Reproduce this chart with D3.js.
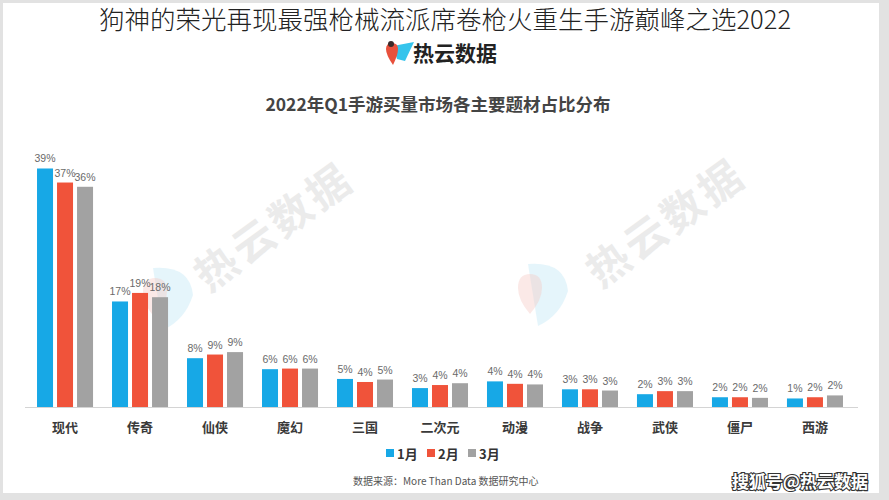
<!DOCTYPE html>
<html>
<head>
<meta charset="utf-8">
<script src="https://cdn.jsdelivr.net/npm/d3@7/dist/d3.min.js"></script>
<style>
  html, body { margin: 0; padding: 0; background: #fff; }
  svg { display: block; }
</style>
</head>
<body>
<svg id="chart" width="889" height="500"></svg>
<script>
// ---- data ----
const categories = ["现代", "传奇", "仙侠", "魔幻", "三国", "二次元", "动漫", "战争", "武侠", "僵尸", "西游"];
const seriesNames = ["1月", "2月", "3月"];
const jan = [39.1, 17.3, 8.0, 6.2, 4.6, 3.1, 4.2, 2.9, 2.1, 1.6, 1.4];
const feb = [36.8, 18.7, 8.6, 6.3, 4.1, 3.6, 3.8, 2.9, 2.6, 1.6, 1.6];
const mar = [36.1, 18.0, 9.0, 6.3, 4.5, 3.9, 3.7, 2.7, 2.6, 1.5, 1.9];
const seriesColors = ["#17a8e6", "#f0533a", "#a2a2a2"];
const pageTitle = "狗神的荣光再现最强枪械流派席卷枪火重生手游巅峰之选2022";
const brandName = "热云数据";
const chartTitle = "2022年Q1手游买量市场各主要题材占比分布";
const sourceText = "数据来源：More Than Data 数据研究中心";
const footerMark = "搜狐号@热云数据";

const series = [jan, feb, mar];
const FONT = "'Noto Sans CJK SC', 'Noto Sans', sans-serif";

const svg = d3.select("#chart");

// frame (photo border)
svg.append("rect").attr("x", 0).attr("y", 0).attr("width", 889).attr("height", 500).attr("fill", "#e2e2e2");
svg.append("rect").attr("x", 3).attr("y", 3).attr("width", 876).attr("height", 490).attr("fill", "#fff");

// page title
svg.append("text")
  .attr("x", 445).attr("y", 29)
  .attr("text-anchor", "middle")
  .attr("font-family", FONT)
  .attr("font-weight", 300)
  .attr("font-size", 25.5)
  .attr("fill", "#222")
  .text(pageTitle);

// brand logo
const logo = svg.append("g");
logo.append("path").attr("d", "M393,46 L414,42 L405,61 L397,59 Z").attr("fill", "#35c4ec");
logo.append("path").attr("d", "M386,49 Q386,43 392,43 Q398,43 398,49 Q398,55 393,65 Q386,55 386,49 Z").attr("fill", "#e8503c");
logo.append("circle").attr("cx", 391).attr("cy", 44).attr("r", 3).attr("fill", "#3a2a2a");
logo.append("text")
  .attr("x", 413).attr("y", 61)
  .attr("font-family", FONT).attr("font-weight", 700).attr("font-size", 21)
  .attr("fill", "#222")
  .text(brandName);

// chart title
svg.append("text")
  .attr("x", 438).attr("y", 111)
  .attr("text-anchor", "middle")
  .attr("font-family", FONT).attr("font-weight", 700).attr("font-size", 17.5)
  .attr("fill", "#444")
  .text(chartTitle);

// watermarks
const wm = svg.append("g");
[[165, 300], [540, 296]].forEach(([cx, cy]) => {
  wm.append("path")
    .attr("d", `M${cx - 12},${cy - 32} Q${cx + 25},${cy - 35} ${cx + 28},${cy - 5} Q${cx + 20},${cy + 20} ${cx - 2},${cy + 30} Z`)
    .attr("fill", "#bfe6f6").attr("opacity", 0.4);
  wm.append("path")
    .attr("d", `M${cx - 22},${cy - 8} Q${cx - 22},${cy - 22} ${cx - 10},${cy - 22} Q${cx + 2},${cy - 22} ${cx + 2},${cy - 8} Q${cx + 2},${cy + 4} ${cx - 10},${cy + 18} Q${cx - 22},${cy + 4} ${cx - 22},${cy - 8} Z`)
    .attr("fill", "#f6c9c2").attr("opacity", 0.4);
});
[[272, 224], [664, 220]].forEach(([x, y]) => {
  wm.append("text")
    .attr("transform", `translate(${x},${y}) rotate(-36)`)
    .attr("text-anchor", "middle")
    .attr("dominant-baseline", "central")
    .attr("font-family", FONT).attr("font-weight", 700).attr("font-size", 42)
    .attr("letter-spacing", 4)
    .attr("fill", "#ebebeb")
    .text(brandName);
});

// scales
const x0 = d3.scaleBand().domain(categories).range([27.5, 852.5]).paddingInner(0.253).paddingOuter(0.127);
const x1 = d3.scaleBand().domain(seriesNames).range([0, x0.bandwidth()]).paddingInner(0.2);
const y = d3.scaleLinear().domain([0, 40]).range([407, 163]);

// bars
const groups = svg.append("g").selectAll("g")
  .data(categories)
  .join("g")
  .attr("transform", d => `translate(${x0(d)},0)`);

groups.selectAll("rect")
  .data((d, i) => seriesNames.map((s, j) => ({ s, j, v: series[j][i] })))
  .join("rect")
  .attr("x", d => x1(d.s))
  .attr("width", x1.bandwidth())
  .attr("y", d => y(d.v))
  .attr("height", d => y(0) - y(d.v))
  .attr("fill", d => seriesColors[d.j]);

groups.selectAll("text")
  .data((d, i) => seriesNames.map((s, j) => ({ s, j, v: series[j][i] })))
  .join("text")
  .attr("x", d => x1(d.s) + x1.bandwidth() / 2)
  .attr("y", d => y(d.v) - 6)
  .attr("text-anchor", "middle")
  .attr("font-family", "'Liberation Sans', Arial, sans-serif")
  .attr("font-size", 10.5)
  .attr("fill", "#6a6a6a")
  .text(d => Math.round(d.v) + "%");

// axis
const xAxis = svg.append("g")
  .attr("transform", `translate(0,${y(0)})`)
  .call(d3.axisBottom(x0).tickSize(0).tickPadding(16));
xAxis.select(".domain").attr("stroke", "#d4d4d4").attr("d", "M25,0.5H858");
xAxis.selectAll("text")
  .attr("font-family", FONT).attr("font-weight", 700).attr("font-size", 13)
  .attr("fill", "#3a3a3a");

// legend
const legend = svg.append("g").attr("transform", "translate(386,453)");
const legItems = legend.selectAll("g").data(seriesNames).join("g")
  .attr("transform", (d, i) => `translate(${i * 41},0)`);
legItems.append("rect")
  .attr("x", 0).attr("y", -4).attr("width", 8).attr("height", 8)
  .attr("fill", (d, i) => seriesColors[i]);
legItems.append("text")
  .attr("x", 11).attr("y", 0)
  .attr("dominant-baseline", "central")
  .attr("font-family", FONT).attr("font-weight", 700).attr("font-size", 13)
  .attr("fill", "#333")
  .text(d => d);

// source
svg.append("text")
  .attr("x", 353).attr("y", 485)
  .attr("font-family", FONT).attr("font-size", 10)
  .attr("fill", "#555")
  .text(sourceText);

// footer mark
svg.append("text")
  .attr("x", 868).attr("y", 488)
  .attr("text-anchor", "end")
  .attr("font-family", FONT).attr("font-weight", 700).attr("font-size", 17)
  .attr("fill", "#fff")
  .attr("stroke", "#333").attr("stroke-width", 2.2)
  .attr("paint-order", "stroke")
  .text(footerMark);
</script>
</body>
</html>
